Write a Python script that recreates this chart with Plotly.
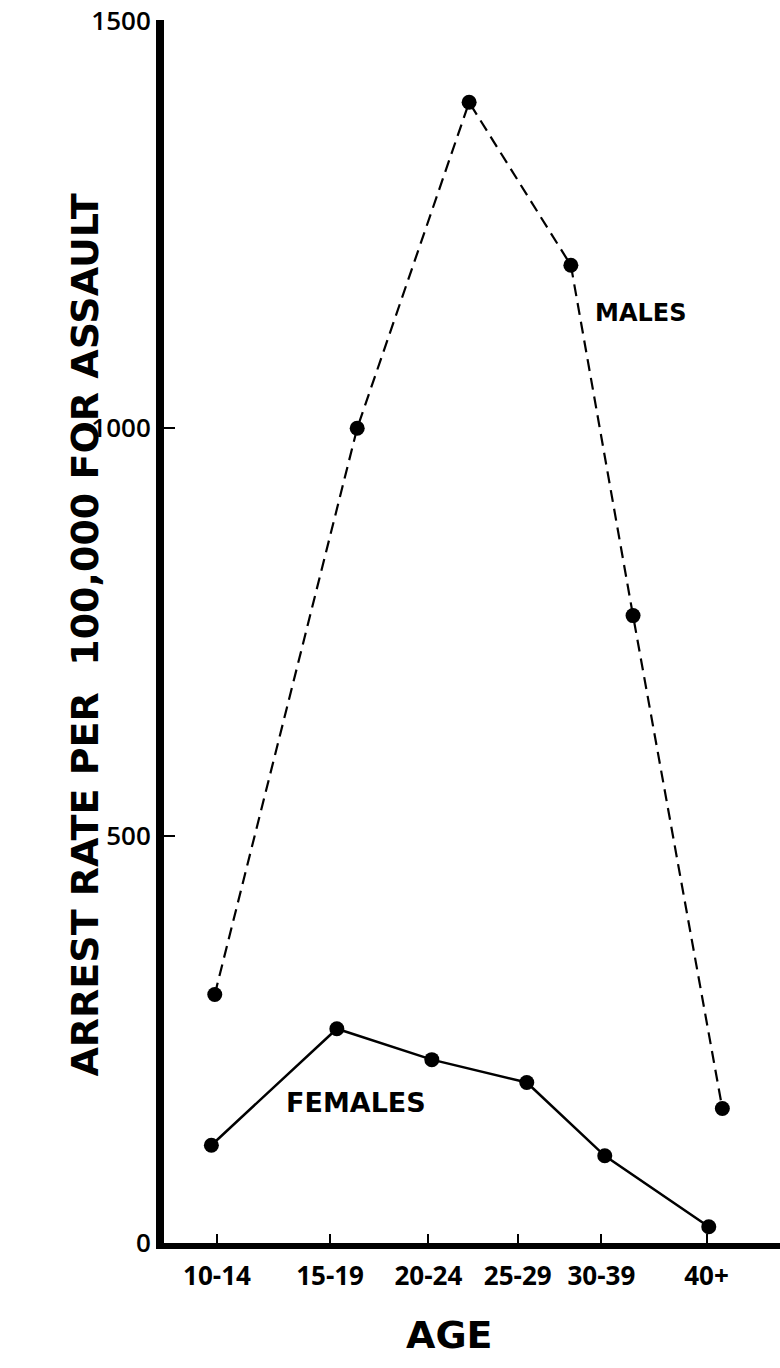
import plotly.graph_objects as go

# Age groups and their positions along the (unevenly spaced) age axis
age_labels = ["10-14", "15-19", "20-24", "25-29", "30-39", "40+"]
age_tick_pos = [1.00, 2.00, 2.87, 3.66, 4.40, 5.33]

# Males (dashed line)
male_x = [0.98, 2.24, 3.23, 4.13, 4.68, 5.47]
male_rate = [305, 1000, 1400, 1200, 770, 165]

# Females (solid line)
female_x = [0.95, 2.06, 2.90, 3.74, 4.43, 5.35]
female_rate = [120, 263, 225, 197, 107, 20]

y_ticks = [0, 500, 1000, 1500]

FONT = "DejaVu Sans"
TICKFONT = "Open Sans"

fig = go.Figure()
fig.add_trace(go.Scatter(
    x=male_x, y=male_rate, mode="lines+markers", name="MALES",
    line=dict(color="black", width=2.2, dash="12px,7px"),
    marker=dict(color="black", size=15),
    cliponaxis=False,
))
fig.add_trace(go.Scatter(
    x=female_x, y=female_rate, mode="lines+markers", name="FEMALES",
    line=dict(color="black", width=2.5),
    marker=dict(color="black", size=15),
    cliponaxis=False,
))

fig.update_layout(
    width=780, height=1368,
    margin=dict(l=164, r=0, t=20, b=125),
    paper_bgcolor="white", plot_bgcolor="white",
    showlegend=False,
    font=dict(family=FONT, color="black"),
    xaxis=dict(
        range=[0.531, 5.98],
        tickmode="array", tickvals=age_tick_pos, ticktext=age_labels,
        ticks="inside", ticklen=9, tickwidth=2, tickcolor="black",
        showline=True, linewidth=6, linecolor="black",
        showgrid=False, zeroline=False,
        ticklabelstandoff=5,
        tickfont=dict(family=TICKFONT, size=26, weight=700),
    ),
    yaxis=dict(
        range=[0, 1501],
        tickmode="array", tickvals=y_ticks,
        ticks="inside", ticklen=11, tickwidth=2, tickcolor="black",
        showline=True, linewidth=8, linecolor="black",
        showgrid=False, zeroline=False,
        ticklabelstandoff=0,
        tickfont=dict(family=TICKFONT, size=26, weight=600),
    ),
    annotations=[
        dict(text="ARREST RATE PER  100,000 FOR ASSAULT", xref="paper", yref="paper",
             x=-0.1276, y=0.497, xanchor="center", yanchor="middle",
             textangle=-90, showarrow=False,
             font=dict(family=FONT, size=38, weight="bold")),
        dict(text="AGE", xref="paper", yref="paper", x=0.463, y=-0.0752,
             xanchor="center", yanchor="middle",
             showarrow=False, font=dict(family=FONT, size=38, weight="bold")),
        dict(text="MALES", x=4.743, y=1141, showarrow=False,
             xanchor="center", yanchor="middle",
             font=dict(family=FONT, size=24, weight="bold")),
        dict(text="FEMALES", x=2.23, y=173, showarrow=False,
             xanchor="center", yanchor="middle",
             font=dict(family=FONT, size=27, weight="bold")),
    ],
)

fig.write_html("out.html", config={"displayModeBar": False},
               post_script="document.body.style.margin='0px';")
